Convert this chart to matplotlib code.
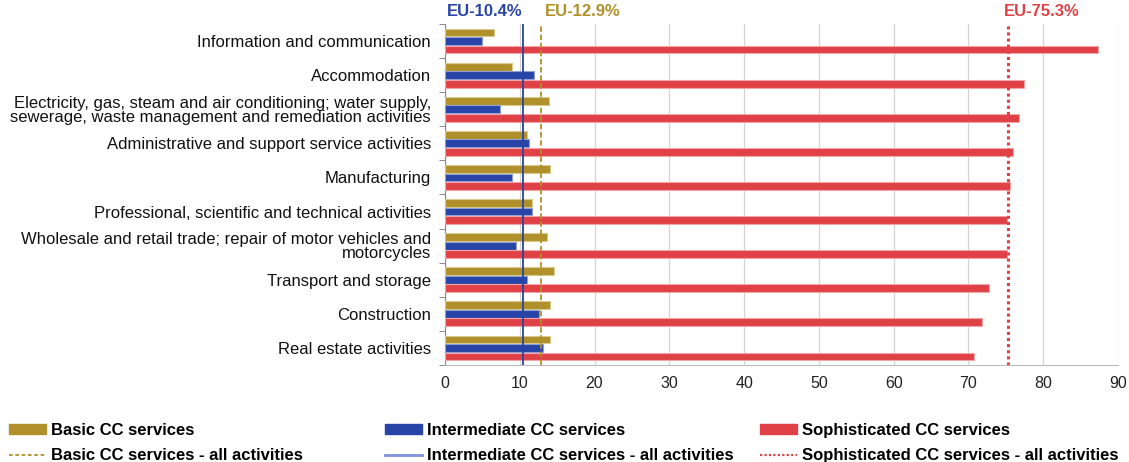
import matplotlib
matplotlib.use("Agg")
import matplotlib.pyplot as plt
import numpy as np
from matplotlib.patches import Patch
from matplotlib.lines import Line2D

plt.rcParams['font.family'] = ['Liberation Sans', 'DejaVu Sans']

categories = [
    "Information and communication",
    "Accommodation",
    "Electricity, gas, steam and air conditioning; water supply,\nsewerage, waste management and remediation activities",
    "Administrative and support service activities",
    "Manufacturing",
    "Professional, scientific and technical activities",
    "Wholesale and retail trade; repair of motor vehicles and\nmotorcycles",
    "Transport and storage",
    "Construction",
    "Real estate activities",
]
basic = [6.6, 8.9, 13.9, 10.9, 14.0, 11.6, 13.7, 14.6, 14.0, 14.0]
intermediate = [5.0, 11.9, 7.3, 11.3, 9.0, 11.6, 9.5, 10.9, 12.6, 13.1]
sophisticated = [87.3, 77.4, 76.7, 76.0, 75.5, 75.1, 75.1, 72.7, 71.8, 70.8]
eu_basic = 12.9
eu_intermediate = 10.4
eu_sophisticated = 75.3
xticks = [0, 10, 20, 30, 40, 50, 60, 70, 80, 90]

c_gold = '#B0902A'
c_blue = '#2744A6'
c_red = '#E04146'

fig = plt.figure(figsize=(11.29, 4.62), dpi=100)
ax = fig.add_axes([445/1129, 1-365/462, (1118-445)/1129, (365-24)/462])

y = np.arange(len(categories))
off = 0.25
h = 0.23
ax.barh(y - off, basic, height=h, color=c_gold, edgecolor='#d8c98c', linewidth=0.8, zorder=3)
ax.barh(y, intermediate, height=h, color=c_blue, edgecolor='#8f9fd6', linewidth=0.8, zorder=3)
ax.barh(y + off, sophisticated, height=h, color=c_red, edgecolor='#f2a5a8', linewidth=0.8, zorder=3)

ax.axvline(eu_intermediate, color=c_blue, lw=1.3, zorder=4)
ax.axvline(eu_basic, color=c_gold, lw=1.3, ls=(0, (3, 1.5)), zorder=4)
ax.axvline(eu_sophisticated, color=c_red, lw=2.2, ls=(0, (1, 1)), zorder=4)

ax.set_xlim(0, 90)
ax.set_ylim(len(categories) - 0.5, -0.5)
ax.set_xticks(xticks)
ax.set_xticklabels([str(t) for t in xticks], fontsize=11.5, color='#222222')
ax.tick_params(axis='x', length=0, pad=8)
ax.set_yticks(y)
ax.set_yticklabels(categories, fontsize=12, color='#111111', linespacing=0.92)
ax.tick_params(axis='y', length=0, pad=10)
ax.set_yticks(np.arange(-0.5, len(categories), 1), minor=True)
ax.tick_params(axis='y', which='minor', length=4, color='#777777', direction='out')
ax.grid(axis='x', color='#d4d4d4', lw=0.9, zorder=0)
ax.set_axisbelow(True)
for s in ['top', 'right']:
    ax.spines[s].set_visible(False)
ax.spines['left'].set_color('#888888')
ax.spines['bottom'].set_color('#bbbbbb')

ax.text(eu_intermediate, 1.015, "EU-10.4%", transform=ax.get_xaxis_transform(),
        ha='right', va='bottom', color=c_blue, fontsize=12, fontweight='bold')
ax.text(eu_basic + 0.5, 1.015, "EU-12.9%", transform=ax.get_xaxis_transform(),
        ha='left', va='bottom', color=c_gold, fontsize=12, fontweight='bold')
ax.text(eu_sophisticated - 0.5, 1.015, "EU-75.3%", transform=ax.get_xaxis_transform(),
        ha='left', va='bottom', color=c_red, fontsize=12, fontweight='bold')

groups = [
    (9, Patch(color=c_gold), "Basic CC services",
     Line2D([], [], color=c_gold, lw=1.3, ls=(0, (2, 1.5))), "Basic CC services - all activities"),
    (385, Patch(color=c_blue), "Intermediate CC services",
     Line2D([], [], color='#7f92dc', lw=2), "Intermediate CC services - all activities"),
    (760, Patch(color=c_red), "Sophisticated CC services",
     Line2D([], [], color=c_red, lw=1.6, ls=(0, (1, 1))), "Sophisticated CC services - all activities"),
]
for x0, p, lp, l, ll in groups:
    fig.legend([p, l], [lp, ll], loc='upper left', bbox_to_anchor=(x0/1129, 1-423/462),
               frameon=False, prop={'weight': 'bold', 'size': 12},
               handlelength=2.2, handleheight=0.5, handletextpad=0.3,
               labelspacing=0.6, borderaxespad=0, borderpad=0)

fig.savefig("out.png", dpi=100)
